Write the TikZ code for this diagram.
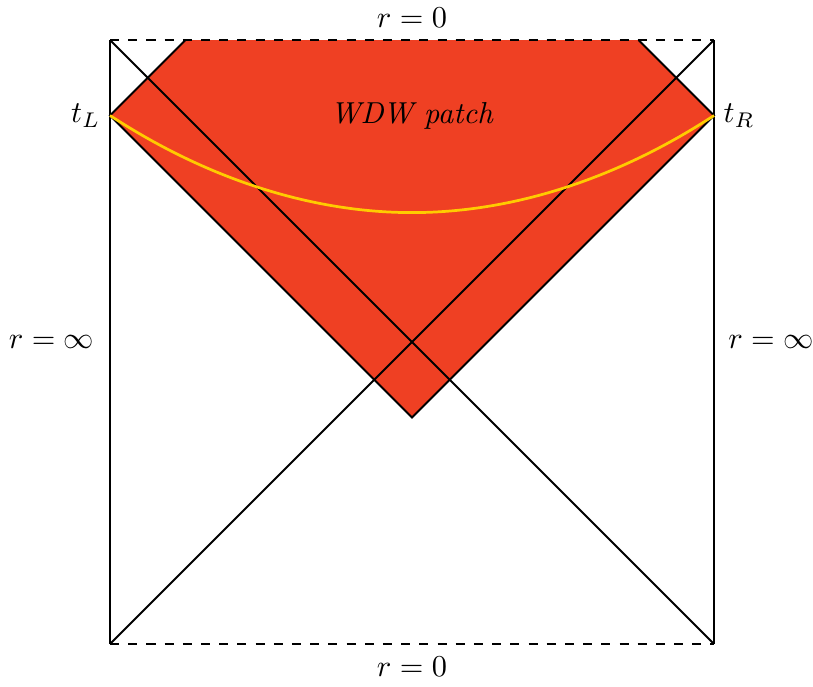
\documentclass[tikz,border=0pt]{standalone}
\usepackage{amsmath,amssymb}
\usepackage{xcolor}
\usepackage{tikz}
\usetikzlibrary{positioning,calc}
\definecolor{wdwfill}{HTML}{EF4023}
\definecolor{slicec}{HTML}{FFCC00}
\tikzset{
  edge/.style={line width=0.65pt, draw=black},
  bdry/.style={edge, dashed},
  slice/.style={line width=0.9pt, draw=slicec},
  lbl/.style={inner sep=3pt},
}
\def\sL{7}
\def\tY{6.125}
\begin{document}
\begin{tikzpicture}
  \useasboundingbox (-1.275,-0.487) rectangle (8.147,7.464);
  % corners of the diagram
  \coordinate (bl) at (0,0);
  \coordinate (br) at (\sL,0);
  \coordinate (tl) at (0,\sL);
  \coordinate (tr) at (\sL,\sL);
  \coordinate (mt) at (\sL/2,\sL);
  \coordinate (mb) at (\sL/2,0);
  \coordinate (ml) at (0,\sL/2);
  \coordinate (mr) at (\sL,\sL/2);
  \coordinate (tL) at (0,\tY);
  \coordinate (tR) at (\sL,\tY);
  \coordinate (pa) at (0.875,\sL);
  \coordinate (pb) at (6.125,\sL);
  \coordinate (pc) at (3.5,2.625);
  % WDW patch
  \fill[wdwfill] (tL) -- (pa) -- (pb) -- (tR) -- (pc) -- cycle;
  \draw[edge] (pa) -- (tL) -- (pc) -- (tR) -- (pb);
  % boundaries and horizons
  \draw[edge] (tl) -- (bl);
  \draw[edge] (tr) -- (br);
  \draw[bdry] (tl) -- (tr);
  \draw[bdry] (bl) -- (br);
  \draw[edge] (bl) -- (tr);
  \draw[edge] (tl) -- (br);
  \draw[slice] (tL) parabola bend (3.5,5) (tR);
  \node[lbl, above=1pt of mt] (rtop) {$r=0$};
  \node[lbl, below=1pt of mb] (rbot) {$r=0$};
  \node[lbl, left=2pt of ml] (rinfL) {$r=\infty$};
  \node[lbl, right=1.5pt of mr] (rinfR) {$r=\infty$};
  \node[lbl, left=0pt of tL] (ntL) {$t_L$};
  \node[lbl, right=0pt of tR] (ntR) {$t_R$};
  \node (wdw) at (3.5,\tY) {\textit{WDW patch}};
\end{tikzpicture}
\end{document}
